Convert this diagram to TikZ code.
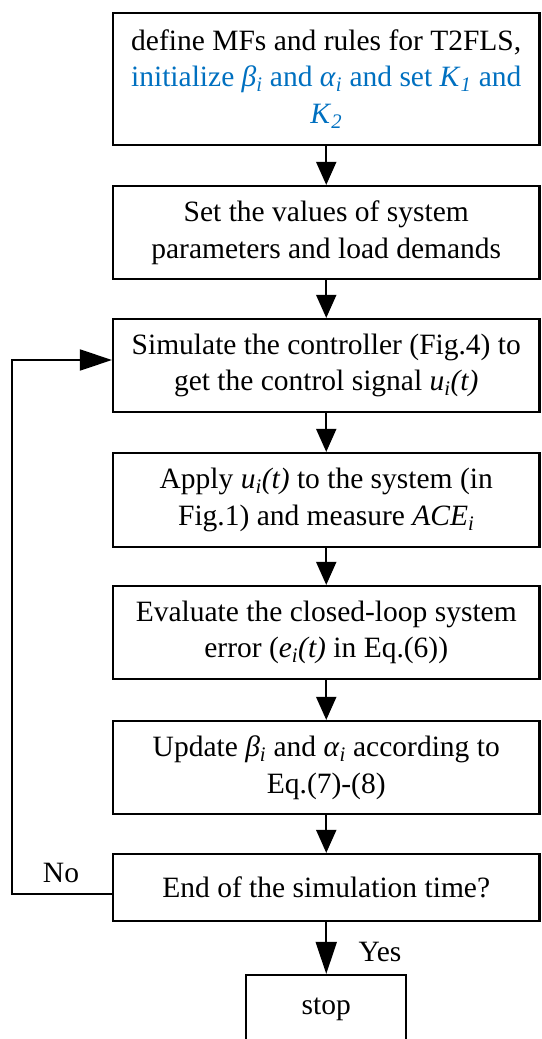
\documentclass[tikz,border=0pt]{standalone}
\usepackage{fontspec}
\setmainfont{Liberation Serif}
\usetikzlibrary{arrows.meta,calc}
\definecolor{wordblue}{RGB}{0,112,192}
% italic symbol with italic subscript
\newcommand\vsub[2]{\textit{#1}\textsubscript{\textit{#2}}}

\begin{document}
\begin{tikzpicture}[x=1pt,y=-1pt,
  txt/.style={font=\fontsize{29.5}{36.5}\selectfont},
  box/.style={draw,line width=2.2pt,minimum width=426.5pt,align=center,
              inner sep=0pt,txt},
  flow/.style={line width=2pt,-{Triangle[length=23pt,width=20pt]}},
  bigflow/.style={line width=2pt,-{Triangle[length=32pt,width=21pt]}}]

\useasboundingbox (0,0) rectangle (541,1039);
\clip (0,0) rectangle (541,1039);

\node[box,minimum height=132pt] (b1) at (326.25,79)
  {define MFs and rules for T2FLS,\\
   \textcolor{wordblue}{initialize \vsub{β}{i} and \vsub{α}{i} and set \vsub{K}{1} and}\\
   \textcolor{wordblue}{\vsub{K}{2}}};
\node[box,minimum height=93pt] (b2) at (326.25,232.5)
  {Set the values of system\\ parameters and load demands};
\node[box,minimum height=93pt] (b3) at (326.25,365.5)
  {Simulate the controller (Fig.4) to\\ get the control signal \vsub{u}{i}\textit{(t)}};
\node[box,minimum height=94pt] (b4) at (326.25,500)
  {Apply \vsub{u}{i}\textit{(t)} to the system (in\\ Fig.1) and measure \vsub{ACE}{i}};
\node[box,minimum height=93pt] (b5) at (326.25,632.5)
  {Evaluate the closed-loop system\\ error (\vsub{e}{i}\textit{(t)} in Eq.(6))};
\node[box,minimum height=93pt] (b6) at (326.25,767.5)
  {Update \vsub{β}{i} and \vsub{α}{i} according to\\ Eq.(7)-(8)};
\node[box,minimum height=67pt] (b7) at (326.25,887.5)
  {End of the simulation time?};
\node[box,minimum width=160pt,minimum height=68pt] (stop) at (326.25,1009)
  {stop};

\draw[flow] (b1.south) -- (b2.north);
\draw[flow] (b2.south) -- (b3.north);
\draw[flow] (b3.south) -- (b4.north);
\draw[flow] (b4.south) -- (b5.north);
\draw[flow] (b5.south) -- (b6.north);
\draw[flow] (b6.south) -- (b7.north);
\draw[bigflow] (b7.south) -- (stop.north);

% return path back to the simulation step
\coordinate (loopc) at (12,894);
\draw[bigflow] ([yshift=-6.5pt]b7.west) -- (loopc) |- ([yshift=5.5pt]b3.west);

\node[txt] (no) at (61,873) {No};
\node[txt] (yes) at (380,952) {Yes};
\end{tikzpicture}
\end{document}
